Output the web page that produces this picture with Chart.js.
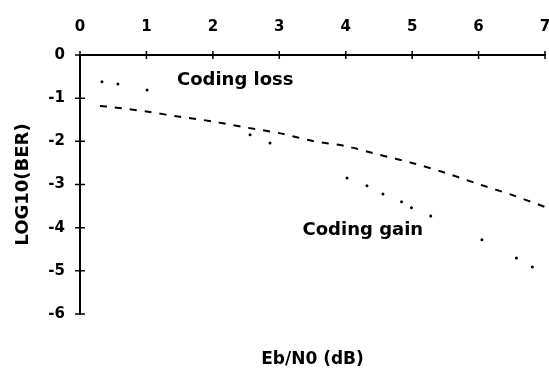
<!DOCTYPE html>
<html>
<head>
<meta charset="utf-8">
<script src="https://cdn.jsdelivr.net/npm/chart.js@4/dist/chart.umd.min.js"></script>
<style>
    html, body { margin: 0; padding: 0; background: #fff; }
</style>
</head>
<body>
<canvas id="graficaBER" width="549" height="371"></canvas>
<script>
// =========================
//        Datos
// =========================
// curva sin codificar (línea discontinua)
const ebNoSinCodigo = [0.3, 0.5, 1, 1.5, 2, 2.5, 3, 3.5, 4, 4.5, 5, 5.5, 6, 6.5, 7];
const berSinCodigo = [-1.18, -1.21, -1.31, -1.43, -1.54, -1.68, -1.81, -1.99, -2.11, -2.31, -2.50, -2.73, -2.99, -3.24, -3.52];

// curva codificada (puntos sueltos)
const ebNoCodigo = [0.33, 0.57, 1.01, 2.56, 2.86, 4.02, 4.32, 4.56, 4.84, 4.99, 5.28, 6.05, 6.57, 6.81];
const berCodigo = [-0.62, -0.67, -0.81, -1.85, -2.04, -2.85, -3.03, -3.22, -3.40, -3.54, -3.73, -4.28, -4.70, -4.91];

// ticks
const ticksX = [0, 1, 2, 3, 4, 5, 6, 7];
const ticksY = [0, -1, -2, -3, -4, -5, -6];

// textos
const tituloX = "Eb/N0 (dB)";
const tituloY = "LOG10(BER)";
const etiquetas = [
    { texto: "Coding loss", x: 1.46, y: -0.69 },
    { texto: "Coding gain", x: 3.35, y: -4.17 }
];

const FUENTE = "'DejaVu Sans', sans-serif";

// =========================
//   Plugin: marcas y textos
// =========================
const extrasGrafica = {
    id: "extrasGrafica",
    afterDatasetsDraw(chart) {
        const { ctx, chartArea, scales: { x, y } } = chart;
        ctx.save();

        // marcas que cruzan los ejes
        ctx.strokeStyle = "#000";
        ctx.lineWidth = 1.5;
        ctx.beginPath();
        ticksX.forEach(v => {
            const px = x.getPixelForValue(v);
            ctx.moveTo(px, y.top - 4);
            ctx.lineTo(px, y.top + 4);
        });
        ticksY.forEach(v => {
            const py = y.getPixelForValue(v);
            ctx.moveTo(x.left - 5, py);
            ctx.lineTo(x.left + 5, py);
        });
        ctx.stroke();

        // etiquetas dentro del gráfico
        ctx.fillStyle = "#000";
        ctx.font = "bold 18px " + FUENTE;
        ctx.textAlign = "left";
        ctx.textBaseline = "alphabetic";
        etiquetas.forEach(e => {
            ctx.fillText(e.texto, x.getPixelForValue(e.x), y.getPixelForValue(e.y));
        });

        // título del eje x (abajo, centrado en el área)
        ctx.font = "bold 17px " + FUENTE;
        ctx.textAlign = "center";
        ctx.textBaseline = "middle";
        ctx.fillText(tituloX, (chartArea.left + chartArea.right) / 2, 360);

        ctx.restore();
    }
};

// =========================
//        Gráfica
// =========================
new Chart(document.getElementById("graficaBER"), {
    type: "scatter",
    data: {
        datasets: [
            {
                label: "Sin codificar",
                data: ebNoSinCodigo.map((v, i) => ({ x: v, y: berSinCodigo[i] })),
                showLine: true,
                borderColor: "#000",
                borderWidth: 2,
                borderDash: [7, 8],
                pointRadius: 0,
                tension: 0.3
            },
            {
                label: "Codificada",
                data: ebNoCodigo.map((v, i) => ({ x: v, y: berCodigo[i] })),
                showLine: false,
                backgroundColor: "#000",
                borderColor: "#000",
                borderWidth: 0,
                pointRadius: 1.5
            }
        ]
    },
    options: {
        responsive: false,
        animation: false,
        devicePixelRatio: 1,
        layout: { padding: { left: 0, right: 3, top: 0, bottom: 57 } },
        plugins: {
            legend: { display: false },
            tooltip: { enabled: false }
        },
        scales: {
            x: {
                type: "linear",
                position: "top",
                min: 0,
                max: 7,
                afterBuildTicks: s => { s.ticks = ticksX.map(v => ({ value: v })); },
                grid: { display: false, drawTicks: false, tickLength: 0 },
                border: { display: true, color: "#000", width: 2 },
                ticks: {
                    color: "#000",
                    padding: 19,
                    maxRotation: 0,
                    font: { family: FUENTE, size: 15, weight: "bold" }
                },
                afterFit: s => {
                    s.height = 55;
                    s.paddingLeft = 0;
                    s.paddingRight = 0;
                }
            },
            y: {
                type: "linear",
                position: "left",
                min: -6,
                max: 0,
                afterBuildTicks: s => { s.ticks = ticksY.map(v => ({ value: v })); },
                grid: { display: false, drawTicks: false, tickLength: 0 },
                border: { display: true, color: "#000", width: 2 },
                ticks: {
                    color: "#000",
                    padding: 15,
                    font: { family: FUENTE, size: 15, weight: "bold" }
                },
                title: {
                    display: true,
                    text: tituloY,
                    color: "#000",
                    padding: { top: 13, bottom: 0 },
                    font: { family: FUENTE, size: 18, weight: "bold" }
                },
                afterFit: s => {
                    s.width = 80;
                    s.paddingTop = 0;
                    s.paddingBottom = 0;
                }
            }
        }
    },
    plugins: [extrasGrafica]
});
</script>
</body>
</html>
